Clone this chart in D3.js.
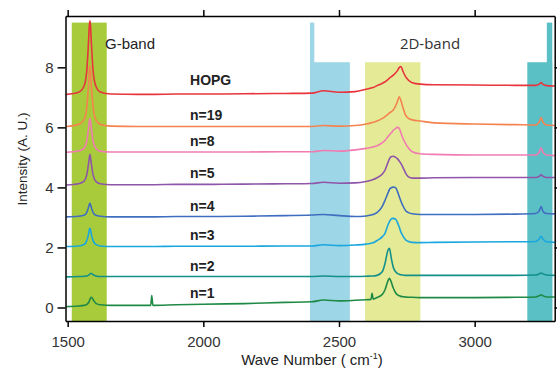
<!DOCTYPE html>
<html>
<head>
<meta charset="utf-8">
<script src="https://cdn.jsdelivr.net/npm/d3@7"></script>
<style>
  body { margin: 0; background: #fff; }
  svg { font-family: "Liberation Sans", Arial, sans-serif; }
</style>
</head>
<body>
<div id="chart"></div>
<script>
// wave numbers shared by every spectrum (cm-1)
const waveNumbers = [
  1495, 1540, 1560, 1570, 1576, 1580, 1582, 1584, 1588, 1594, 1604, 1620, 1660,
  1760, 1806, 1810, 1814, 1900, 2000, 2150, 2300,
  2400, 2443, 2500, 2560, 2600, 2618, 2622, 2626, 2640, 2660,
  2670, 2680, 2686, 2692, 2700, 2708, 2716, 2722, 2728, 2736,
  2746, 2756, 2770, 2800, 2850, 3000, 3150, 3225, 3238, 3245,
  3252, 3265, 3295
];

const seriesNames = ['HOPG', 'n=19', 'n=8', 'n=5', 'n=4', 'n=3', 'n=2', 'n=1'];
const seriesColors = ['#e8343c', '#f5834f', '#f07cb2', '#8e55a8', '#3f6dc0', '#1aa7de', '#13908a', '#1f8a45'];

const hopg = [
  7.10, 7.17, 7.37, 7.85, 8.70, 9.40, 9.55, 9.40, 8.70, 7.85, 7.37, 7.18, 7.11,
  7.10, 7.10, 7.10, 7.10, 7.11, 7.11, 7.12, 7.13,
  7.14, 7.22, 7.17, 7.19, 7.27, 7.31, 7.32, 7.33, 7.39, 7.47,
  7.52, 7.59, 7.64, 7.68, 7.74, 7.81, 7.90, 7.99, 8.03, 7.86,
  7.68, 7.57, 7.49, 7.44, 7.42, 7.41, 7.40, 7.40, 7.44, 7.49,
  7.43, 7.39, 7.38
];
const n19 = [
  6.03, 6.10, 6.25, 6.65, 7.30, 7.90, 8.05, 7.90, 7.30, 6.65, 6.25, 6.10, 6.04,
  6.03, 6.03, 6.03, 6.03, 6.03, 6.03, 6.03, 6.03,
  6.03, 6.06, 6.04, 6.06, 6.11, 6.15, 6.16, 6.17, 6.21, 6.30,
  6.36, 6.43, 6.48, 6.52, 6.58, 6.70, 6.88, 7.02, 6.90, 6.65,
  6.40, 6.30, 6.25, 6.21, 6.15, 6.11, 6.09, 6.08, 6.18, 6.33,
  6.17, 6.08, 6.06
];
const n8 = [
  5.17, 5.21, 5.30, 5.52, 5.90, 6.22, 6.30, 6.22, 5.90, 5.52, 5.30, 5.21, 5.18,
  5.18, 5.18, 5.18, 5.18, 5.18, 5.18, 5.18, 5.19,
  5.19, 5.23, 5.21, 5.25, 5.30, 5.33, 5.34, 5.35, 5.39, 5.49,
  5.57, 5.69, 5.75, 5.81, 5.90, 5.96, 6.00, 5.97, 5.82, 5.63,
  5.45, 5.31, 5.19, 5.12, 5.10, 5.08, 5.08, 5.08, 5.18, 5.32,
  5.16, 5.08, 5.06
];
const n5 = [
  4.08, 4.12, 4.20, 4.40, 4.73, 5.00, 5.10, 5.00, 4.73, 4.40, 4.20, 4.12, 4.09,
  4.09, 4.09, 4.09, 4.09, 4.10, 4.10, 4.11, 4.12,
  4.13, 4.17, 4.14, 4.15, 4.20, 4.24, 4.25, 4.26, 4.32, 4.45,
  4.58, 4.82, 4.95, 5.02, 5.04, 5.01, 4.95, 4.88, 4.80, 4.66,
  4.47, 4.35, 4.31, 4.31, 4.32, 4.33, 4.33, 4.33, 4.37, 4.42,
  4.37, 4.33, 4.33
];
const n4 = [
  3.02, 3.04, 3.07, 3.16, 3.31, 3.44, 3.47, 3.44, 3.31, 3.16, 3.07, 3.04, 3.02,
  3.02, 3.02, 3.02, 3.02, 3.03, 3.03, 3.04, 3.06,
  3.08, 3.10, 3.06, 3.03, 3.05, 3.08, 3.09, 3.10, 3.16, 3.38,
  3.58, 3.80, 3.93, 3.99, 4.01, 4.00, 3.85, 3.70, 3.55, 3.38,
  3.22, 3.16, 3.12, 3.10, 3.10, 3.10, 3.11, 3.13, 3.22, 3.36,
  3.20, 3.13, 3.12
];
const n3 = [
  2.03, 2.05, 2.10, 2.22, 2.41, 2.59, 2.64, 2.59, 2.41, 2.22, 2.10, 2.05, 2.03,
  2.03, 2.03, 2.03, 2.03, 2.04, 2.04, 2.04, 2.05,
  2.05, 2.09, 2.06, 2.08, 2.11, 2.14, 2.15, 2.16, 2.23, 2.36,
  2.48, 2.74, 2.86, 2.94, 2.97, 2.95, 2.82, 2.68, 2.52, 2.38,
  2.25, 2.20, 2.17, 2.16, 2.17, 2.18, 2.19, 2.20, 2.28, 2.37,
  2.27, 2.19, 2.17
];
const n2 = [
  1.02, 1.03, 1.04, 1.05, 1.07, 1.10, 1.12, 1.13, 1.13, 1.09, 1.05, 1.03, 1.03,
  1.03, 1.03, 1.03, 1.03, 1.03, 1.03, 1.03, 1.03,
  1.03, 1.05, 1.03, 1.03, 1.04, 1.05, 1.05, 1.05, 1.07, 1.20,
  1.48, 1.90, 1.97, 1.68, 1.34, 1.20, 1.13, 1.11, 1.09, 1.08,
  1.07, 1.07, 1.07, 1.07, 1.07, 1.07, 1.07, 1.08, 1.12, 1.15,
  1.12, 1.08, 1.07
];
const n1 = [
  0.03, 0.05, 0.07, 0.10, 0.15, 0.22, 0.27, 0.31, 0.34, 0.26, 0.14, 0.09, 0.07,
  0.07, 0.07, 0.40, 0.07, 0.09, 0.11, 0.13, 0.17,
  0.19, 0.25, 0.22, 0.24, 0.26, 0.27, 0.47, 0.28, 0.33, 0.44,
  0.60, 0.88, 0.97, 0.86, 0.65, 0.50, 0.42, 0.39, 0.37, 0.36,
  0.35, 0.34, 0.34, 0.33, 0.33, 0.33, 0.34, 0.35, 0.39, 0.42,
  0.39, 0.35, 0.35
];
const seriesValues = [hopg, n19, n8, n5, n4, n3, n2, n1];

// shaded bands (wave number range and top in intensity units)
const bandStart = [1515, 2393, 2393, 2596, 3194, 3266];
const bandEnd   = [1644, 2540, 2409, 2800, 3286, 3286];
const bandTop   = [9.49, 8.17, 9.49, 8.17, 8.17, 9.49];
const bandColors = ['#a8cb3c', '#9dd6e6', '#9dd6e6', '#e4ea96', '#5bbfc6', '#5bbfc6'];

const xTicks = [1500, 2000, 2500, 3000];
const yTicks = [0, 2, 4, 6, 8];

const width = 557, height = 370;
const svg = d3.select('#chart').append('svg')
  .attr('width', width)
  .attr('height', height);

const x = d3.scaleLinear().domain([1492, 3295]).range([65.5, 554.7]);
const y = d3.scaleLinear().domain([-0.45, 9.71]).range([321, 16]);

// bands
svg.append('g')
  .selectAll('rect')
  .data(bandStart)
  .join('rect')
    .attr('x', (d, i) => x(d))
    .attr('y', (d, i) => y(bandTop[i]))
    .attr('width', (d, i) => x(bandEnd[i]) - x(d))
    .attr('height', (d, i) => y.range()[0] - y(bandTop[i]))
    .attr('fill', (d, i) => bandColors[i]);

// spectra
const line = d3.line()
  .x(d => x(d[0]))
  .y(d => y(d[1]))
  .curve(d3.curveMonotoneX);

svg.append('g')
  .selectAll('path')
  .data(seriesValues)
  .join('path')
    .attr('d', vals => line(vals.map((v, i) => [waveNumbers[i], v])))
    .attr('fill', 'none')
    .attr('stroke', (d, i) => seriesColors[i])
    .attr('stroke-width', 1.6)
    .attr('stroke-linejoin', 'round');

// series labels, just above each line
const labelAt = waveNumbers.indexOf(2000);
svg.append('g')
  .selectAll('text')
  .data(seriesNames)
  .join('text')
    .attr('x', x(1951))
    .attr('y', (d, i) => y(seriesValues[i][labelAt]) - (i === 0 ? 9 : 6))
    .attr('font-size', 14)
    .attr('font-weight', 'bold')
    .attr('fill', '#222')
    .text(d => d);

svg.append('text')
  .attr('x', 105)
  .attr('y', 49)
  .attr('font-size', 15)
  .attr('fill', '#222')
  .text('G-band');

svg.append('text')
  .attr('x', 430)
  .attr('y', 48.5)
  .attr('text-anchor', 'middle')
  .attr('font-family', '"Open Sans", sans-serif')
  .attr('font-size', 15)
  .attr('fill', '#333')
  .text('2D-band');

// axes
const axisStyle = g => g
  .call(g => g.selectAll('.domain').attr('stroke', '#000').attr('stroke-width', 1.5))
  .call(g => g.selectAll('.tick line').attr('stroke', '#000').attr('stroke-width', 1.5))
  .call(g => g.selectAll('.tick text').attr('font-size', 15).attr('fill', '#333')
    .attr('font-family', '"Liberation Sans", Arial, sans-serif'));

svg.append('g')
  .attr('transform', `translate(0,${y.range()[0]})`)
  .call(d3.axisBottom(x).tickValues(xTicks).tickFormat(d3.format('d'))
    .tickSize(6).tickPadding(9).tickSizeOuter(0))
  .call(axisStyle);

svg.append('g')
  .attr('transform', `translate(0,${y.range()[1]})`)
  .call(d3.axisTop(x).tickValues(xTicks).tickSize(6).tickSizeOuter(0).tickFormat(''))
  .call(axisStyle);

svg.append('g')
  .attr('transform', `translate(${x.range()[0]},0)`)
  .call(d3.axisLeft(y).tickValues(yTicks).tickSize(8).tickPadding(4).tickSizeOuter(0))
  .call(axisStyle);

svg.append('g')
  .attr('transform', `translate(${x.range()[1]},0)`)
  .call(d3.axisRight(y).tickValues(yTicks).tickSize(3).tickSizeOuter(0).tickFormat(''))
  .call(axisStyle);

// axis titles
svg.append('text')
  .attr('transform', `translate(27,159) rotate(-90)`)
  .attr('text-anchor', 'middle')
  .attr('font-size', 13.5)
  .attr('fill', '#222')
  .text('Intensity (A. U.)');

const xTitle = svg.append('text')
  .attr('x', 312)
  .attr('y', 365)
  .attr('text-anchor', 'middle')
  .attr('font-size', 15)
  .attr('fill', '#222');
xTitle.append('tspan').text('Wave Number ( cm');
xTitle.append('tspan').attr('dy', -6).attr('font-size', 9).text('-1');
xTitle.append('tspan').attr('dy', 6).text(')');
</script>
</body>
</html>
